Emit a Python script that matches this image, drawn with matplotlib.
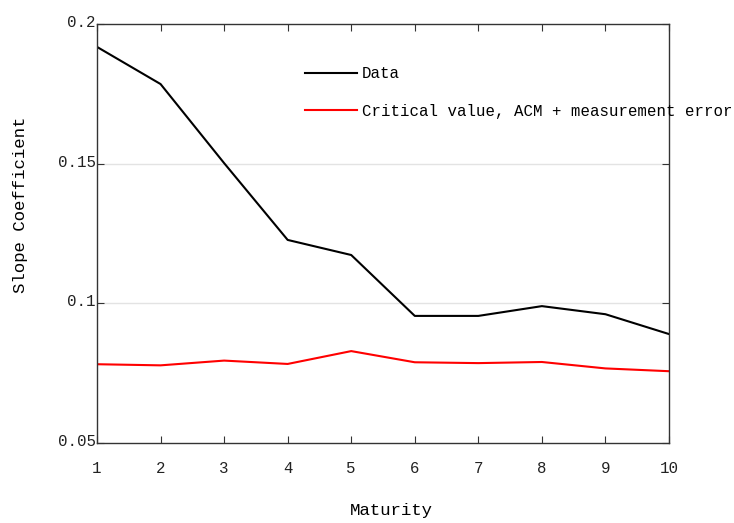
import matplotlib
matplotlib.use("Agg")
import matplotlib.pyplot as plt
from matplotlib.transforms import ScaledTranslation

maturity = [1, 2, 3, 4, 5, 6, 7, 8, 9, 10]
slope_data = [0.1918, 0.1785, 0.1502, 0.1227, 0.1173, 0.0955, 0.0955, 0.0990, 0.0961, 0.0890]
critical_acm_me = [0.0782, 0.0778, 0.0795, 0.0783, 0.0829, 0.0789, 0.0786, 0.0790, 0.0767, 0.0757]
y_ticks = [0.05, 0.1, 0.15, 0.2]
y_tick_labels = ["0.05", "0.1", "0.15", "0.2"]

plt.rcParams["font.family"] = ["Liberation Mono", "DejaVu Sans Mono"]
plt.rcParams["font.size"] = 11.3

fig = plt.figure(figsize=(7.34, 5.23), dpi=100)
ax = fig.add_axes([97 / 734, 1 - 443 / 523, (669 - 97) / 734, (443 - 24) / 523])

ax.plot(maturity, slope_data, color="black", lw=1.5, label="Data")
ax.plot(maturity, critical_acm_me, color="red", lw=1.5,
        label="Critical value, ACM + measurement error")

ax.set_xlim(1, 10)
ax.set_ylim(0.05, 0.2)
ax.set_xticks(maturity)
ax.set_yticks(y_ticks)
ax.set_yticklabels(y_tick_labels)

for y in [0.1, 0.15]:
    ax.axhline(y, color="#e3e3e3", lw=1, zorder=0)

for s in ax.spines.values():
    s.set_color("#333333")
    s.set_linewidth(1)

ax.tick_params(axis="x", direction="in", length=5, top=True, pad=13, colors="#333333")
ax.tick_params(axis="y", direction="in", length=5, right=True, pad=1, colors="#333333")
ax.tick_params(labelcolor="#222222")

# nudge the y tick labels up a little
shift = ScaledTranslation(0, 3 / 100, fig.dpi_scale_trans)
for lab in ax.get_yticklabels():
    lab.set_transform(lab.get_transform() + shift)

ax.set_xlabel("Maturity", fontsize=12.5)
ax.xaxis.set_label_coords((391 - 97) / (669 - 97), -(503 - 443) / (443 - 24))
ax.set_ylabel("Slope Coefficient", fontsize=12.5)
ax.yaxis.set_label_coords(-(97 - 28) / (669 - 97), (443 - 205) / (443 - 24))

ax.legend(loc="upper left", bbox_to_anchor=((305 - 97) / (669 - 97), 1 - (66 - 24) / (443 - 24)),
          frameon=False, handlelength=3.3, handletextpad=0.3, labelspacing=1.45,
          borderaxespad=0, borderpad=0)

fig.savefig("out.png", dpi=100)
